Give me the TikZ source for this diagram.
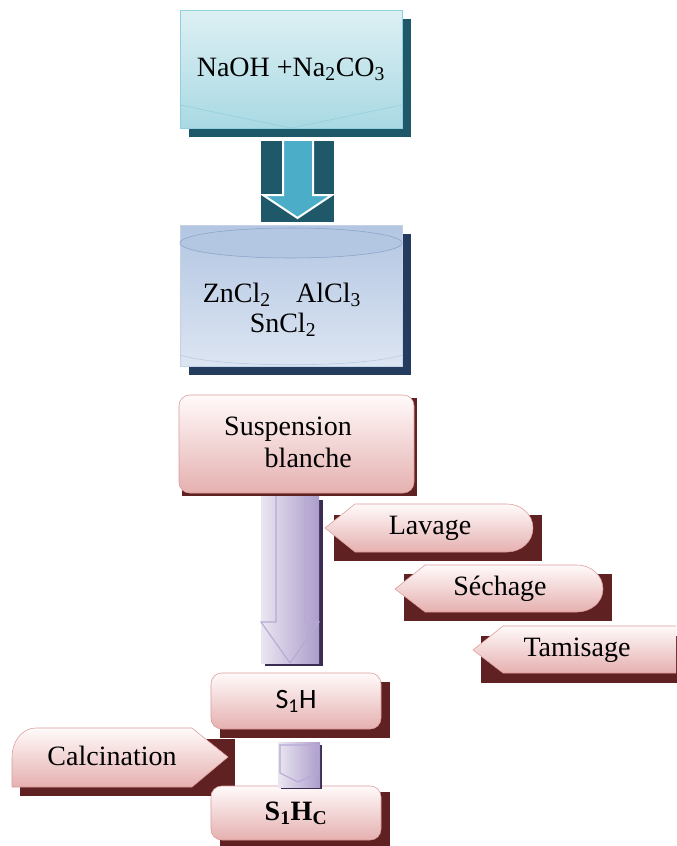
\documentclass[tikz,border=0pt]{standalone}
\usepackage{fontspec}
\setmainfont{Liberation Serif}
\newfontfamily\carlito{Carlito}
\usetikzlibrary{backgrounds}

\definecolor{tealline}{HTML}{8FD0DD}
\definecolor{tealtop}{HTML}{DDF0F4}
\definecolor{tealbot}{HTML}{A9D9E3}
\definecolor{tealdark}{HTML}{1F5868}
\definecolor{tealarrow}{HTML}{4BADC8}
\definecolor{cylline}{HTML}{8AA3C8}
\definecolor{cyltop}{HTML}{B3C6E2}
\definecolor{cylbot}{HTML}{DCE5F2}
\definecolor{navydark}{HTML}{243D5E}
\definecolor{pinkline}{HTML}{DC9A9A}
\definecolor{pinktop}{HTML}{FFFAFA}
\definecolor{pinkbot}{HTML}{E6B0B0}
\definecolor{maroon}{HTML}{5F2121}
\definecolor{lilaclight}{HTML}{EAE6F1}
\definecolor{lilacdark}{HTML}{AC9DCB}
\definecolor{lilacline}{HTML}{B8A8D4}
\definecolor{lilacshadow}{HTML}{3A2C52}

\begin{document}
\begin{tikzpicture}[x=0.75pt, y=-0.75pt,
  font=\fontsize{21}{24}\selectfont,
  tealbox/.style={draw=tealline, top color=tealtop, bottom color=tealbot,
                  minimum width=166.5pt, minimum height=88.5pt},
  cylbox/.style={draw=cylline!50, top color=cyltop, bottom color=cylbot,
                 minimum width=166.5pt, minimum height=105.75pt},
  pinkbox/.style={draw=pinkline, rounded corners=8pt, top color=pinktop,
                  bottom color=pinkbot, minimum width=127.5pt},
  pinktag/.style={draw=pinkline, top color=pinktop, bottom color=pinkbot},
  lilac/.style={left color=lilaclight, right color=lilacdark},
  outline/.style={draw=lilacline, line width=0.8pt}
]
  \clip (0,0) rectangle (676,846);

  % boxes
  \node[tealbox] (base) at (291,69) {NaOH +Na\textsubscript{2}CO\textsubscript{3}};
  \draw[tealline] (180,105) -- (291,128) -- (402,105);

  \node[cylbox] (salts) at (291,295.5) {};
  \draw[cylline, fill=cyltop] (291,243) ellipse [x radius=83.25pt, y radius=11.25pt];
  \draw[cylline!60] (180,355) .. controls (220,368) and (362,368) .. (402,355);
  \node (zn) at (282,295) {ZnCl\textsubscript{2}\hspace{19pt}AlCl\textsubscript{3}};
  \node (sn) at (283,325) {SnCl\textsubscript{2}};

  \node[pinkbox, minimum width=176.25pt, minimum height=73.5pt] (susp) at (296.5,444) {};
  \node[align=right] (suspTxt) at (288,442) {Suspension\\blanche};

  \node[pinkbox, minimum height=42pt] (sh) at (296,701) {\carlito S\textsubscript{1}H};
  \node[pinkbox, minimum height=40.5pt] (shc) at (296,813)
        {\textbf{S\textsubscript{1}H\textsubscript{C}}};

  % steps
  \path[pinktag] (325,528) -- (355,504) -- (507,504) to[out=0,in=90] (533,528)
        to[out=-90,in=0] (507,552) -- (355,552) -- cycle;
  \node (lav) at (430,528) {Lavage};
  \path[pinktag] (395,589) -- (425,565) -- (577,565) to[out=0,in=90] (603,589)
        to[out=-90,in=0] (577,612) -- (425,612) -- cycle;
  \node (sech) at (500,589) {Séchage};
  \path[pinktag] (473,650) -- (503,626) -- (676,626) to[out=0,in=90] (702,650)
        to[out=-90,in=0] (676,673) -- (503,673) -- cycle;
  \node (tam) at (577,650) {Tamisage};
  \path[pinktag] (12,787) -- (12,757) to[out=90,in=180] (36,728) -- (192,728)
        -- (228,757) -- (192,787) -- cycle;
  \node (calc) at (112,756) {Calcination};

  \begin{scope}[on background layer]
    \fill[tealdark] ([shift={(9,9)}]base.north west) rectangle ([shift={(9,9)}]base.south east);
    \fill[navydark] ([shift={(9,9)}]salts.north west) rectangle ([shift={(9,9)}]salts.south east);
    \fill[maroon] ([shift={(3,3)}]susp.north west) rectangle ([shift={(3,3)}]susp.south east);
    \fill[maroon] ([shift={(9,9)}]sh.north west) rectangle ([shift={(9,9)}]sh.south east);
    \fill[maroon] ([shift={(9,6)}]shc.north west) rectangle ([shift={(9,6)}]shc.south east);
    \fill[maroon] (334,515) rectangle (542,561);
    \fill[maroon] (404,574) rectangle (612,621);
    \fill[maroon] (481,636) rectangle (700,683);
    \fill[maroon] (20,739) rectangle (235,796);
  \end{scope}

  % arrows
  \fill[tealdark] (261,141) rectangle (334,222);
  \draw[white, line width=1.5pt, fill=tealarrow] (283,141) -- (283,195) -- (263,195)
        -- (297.5,218) -- (332,195) -- (313,195) -- (313,141);

  \fill[lilacshadow] (265,500) rectangle (323,666);
  \fill[lilac] (261,496) rectangle (319,663);
  \draw[outline] (276,496) -- (276,622) -- (261,622) -- (290,663) -- (319,622)
        -- (305,622) -- (305,496);

  \fill[lilacshadow] (281,745) rectangle (322,789);
  \fill[lilac] (278,742) rectangle (320,787);
  \draw[outline] (280,745) -- (318,745) -- (318,773) -- (298,782) -- (280,773) -- cycle;
\end{tikzpicture}
\end{document}
